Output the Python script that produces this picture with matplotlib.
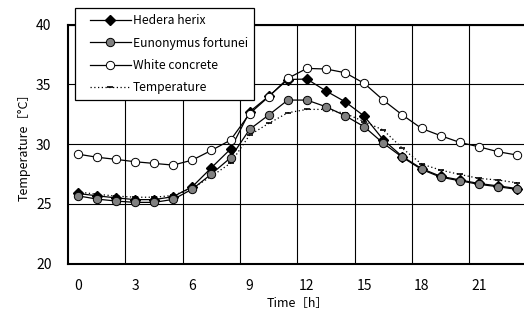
import matplotlib
matplotlib.use("Agg")
from matplotlib import pyplot as plt
from matplotlib.legend_handler import HandlerLine2D
from matplotlib.lines import Line2D

plt.rcParams['font.family'] = ['Noto Sans CJK JP', 'DejaVu Sans']

hours = list(range(24))
tick_hours = [0, 3, 6, 9, 12, 15, 18, 21]

hedera = [25.87, 25.67, 25.5, 25.35, 25.35, 25.6, 26.43, 28.02, 29.58, 32.7,
          34.0, 35.4, 35.44, 34.44, 33.54, 32.34, 30.35, 28.95, 27.95, 27.3,
          27.0, 26.7, 26.5, 26.28]
eunonymus = [25.67, 25.4, 25.23, 25.12, 25.12, 25.37, 26.23, 27.49, 28.85, 31.23,
             32.43, 33.68, 33.68, 33.12, 32.37, 31.45, 30.06, 28.89, 27.88, 27.23,
             26.93, 26.63, 26.43, 26.21]
white_concrete = [29.16, 28.9, 28.72, 28.52, 28.38, 28.24, 28.66, 29.47, 30.33, 32.54,
                  33.96, 35.5, 36.33, 36.28, 35.97, 35.08, 33.67, 32.43, 31.31, 30.7,
                  30.14, 29.77, 29.36, 29.08]
temperature = [26.0, 25.8, 25.65, 25.55, 25.55, 25.7, 26.3, 27.3, 28.4, 30.75,
               31.73, 32.62, 32.9, 32.9, 32.57, 31.87, 31.17, 29.64, 28.33, 27.82,
               27.46, 27.13, 26.99, 26.76]

fig = plt.figure(figsize=(5.24, 3.23), dpi=100)
ax = fig.add_axes([0.130, 0.184, 0.875, 0.740])

ax.plot(hours, temperature, color='black', linestyle=(0, (1, 2)), linewidth=0.9,
        marker='_', markersize=4, markeredgewidth=1.2, label='Temperature', zorder=2)
ax.plot(hours, hedera, color='black', linewidth=0.9, marker='D', markersize=5,
        markerfacecolor='black', markeredgecolor='black', label='Hedera herix', zorder=3)
ax.plot(hours, eunonymus, color='black', linewidth=0.9, marker='o', markersize=6,
        markerfacecolor='#808080', markeredgecolor='black', markeredgewidth=0.7,
        label='Eunonymus fortunei', zorder=4)
ax.plot(hours, white_concrete, color='black', linewidth=0.9, marker='o', markersize=6,
        markerfacecolor='white', markeredgecolor='black', markeredgewidth=0.7,
        label='White concrete', zorder=5)

ax.set_xlim(-0.5, 23.5)
ax.set_ylim(20, 40)
ax.set_xticks(tick_hours)
ax.set_xticklabels([str(h) for h in tick_hours])
ax.set_xticks([h + 2.5 for h in tick_hours[:-1]], minor=True)
ax.set_yticks([20, 25, 30, 35, 40])
ax.tick_params(axis='both', which='both', length=0, labelsize=10)
ax.tick_params(axis='x', pad=11)
ax.tick_params(axis='y', pad=12)
ax.grid(True, which='minor', axis='x', color='black', linewidth=0.8)
ax.grid(True, which='major', axis='y', color='black', linewidth=0.8)
ax.set_axisbelow(True)
for s in ax.spines.values():
    s.set_linewidth(1.5)

ax.set_xlabel('Time［h］', fontsize=9, labelpad=3)
ax.set_ylabel('Temperature［°C］', fontsize=9, labelpad=4)

handles, labels = ax.get_legend_handles_labels()
order = [1, 2, 3, 0]
leg = ax.legend([handles[i] for i in order], [labels[i] for i in order],
                loc='upper left', bbox_to_anchor=(0.143, 0.975),
                bbox_transform=fig.transFigure, fontsize=8.7, fancybox=False,
                framealpha=1, edgecolor='black', borderaxespad=0,
                handlelength=4.1, handletextpad=0.2, labelspacing=0.78,
                borderpad=0.5, handler_map={Line2D: HandlerLine2D(xpad=0.75)})
leg.get_frame().set_linewidth(0.9)
leg.set_zorder(10)

fig.savefig('out.png', dpi=100)
